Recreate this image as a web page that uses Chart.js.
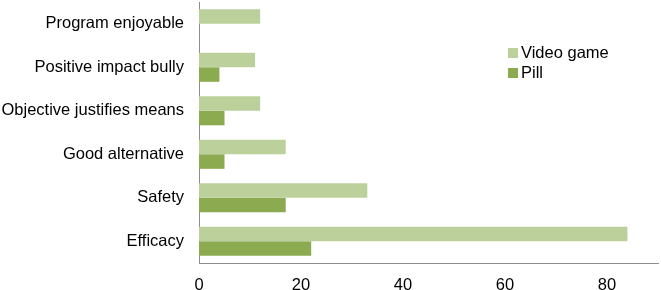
<!DOCTYPE html>
<html>
<head>
<meta charset="utf-8">
<script src="https://cdn.jsdelivr.net/npm/chart.js@4/dist/chart.umd.min.js"></script>
<style>
html,body{margin:0;padding:0;background:#fff;}
#wrap{width:661px;height:290px;position:relative;}
</style>
</head>
<body>
<div id="wrap"><canvas id="c"></canvas></div>
<script>
const categories = ["Program enjoyable","Positive impact bully","Objective justifies means","Good alternative","Safety","Efficacy"];
const seriesNames = ["Video game","Pill"];
const videoGame = [12, 11, 12, 17, 33, 84];
const pill = [0, 4, 5, 5, 17, 22];
const xTicks = [0, 20, 40, 60, 80];

const colors = ["#bcd09c", "#8cab51"];
const FONT = "'Liberation Sans', Arial, sans-serif";

const legendPlugin = {
  id: 'customLegend',
  afterDraw(chart) {
    const ctx = chart.ctx;
    ctx.save();
    ctx.font = "16.5px " + FONT;
    ctx.textBaseline = 'middle';
    chart.data.datasets.forEach((ds, i) => {
      const y = 53 + i * 20;
      ctx.fillStyle = ds.backgroundColor;
      ctx.fillRect(508, y - 5, 10, 10);
      ctx.fillStyle = '#000';
      ctx.fillText(ds.label, 521, y);
    });
    ctx.restore();
  }
};

function zeroPad(scale) {
  scale.paddingTop = 0; scale.paddingBottom = 0;
  scale.paddingLeft = 0; scale.paddingRight = 0;
}

new Chart(document.getElementById('c'), {
  type: 'bar',
  data: {
    labels: categories,
    datasets: [
      {label: seriesNames[0], data: videoGame, backgroundColor: colors[0]},
      {label: seriesNames[1], data: pill, backgroundColor: colors[1]}
    ]
  },
  options: {
    indexAxis: 'y',
    responsive: true,
    maintainAspectRatio: false,
    animation: false,
    layout: {padding: {top: 2, right: 3, left: 0, bottom: 0}},
    datasets: {bar: {categoryPercentage: 0.67, barPercentage: 1.0}},
    plugins: {legend: {display: false}, tooltip: {enabled: false}},
    scales: {
      x: {
        min: 0, max: 90,
        grid: {display: false, drawTicks: false},
        border: {display: true, color: '#8c8c8c', width: 1},
        afterBuildTicks(scale) { scale.ticks = xTicks.map(v => ({value: v})); },
        afterFit(scale) { scale.height = 27; zeroPad(scale); },
        ticks: {color: '#000', padding: 13, font: {family: FONT, size: 16.5}}
      },
      y: {
        grid: {display: false, drawTicks: false},
        border: {display: true, color: '#8c8c8c', width: 1},
        afterFit(scale) { scale.width = 199; zeroPad(scale); },
        ticks: {color: '#000', padding: 15, font: {family: FONT, size: 16.5}}
      }
    }
  },
  plugins: [legendPlugin]
});
</script>
</body>
</html>
